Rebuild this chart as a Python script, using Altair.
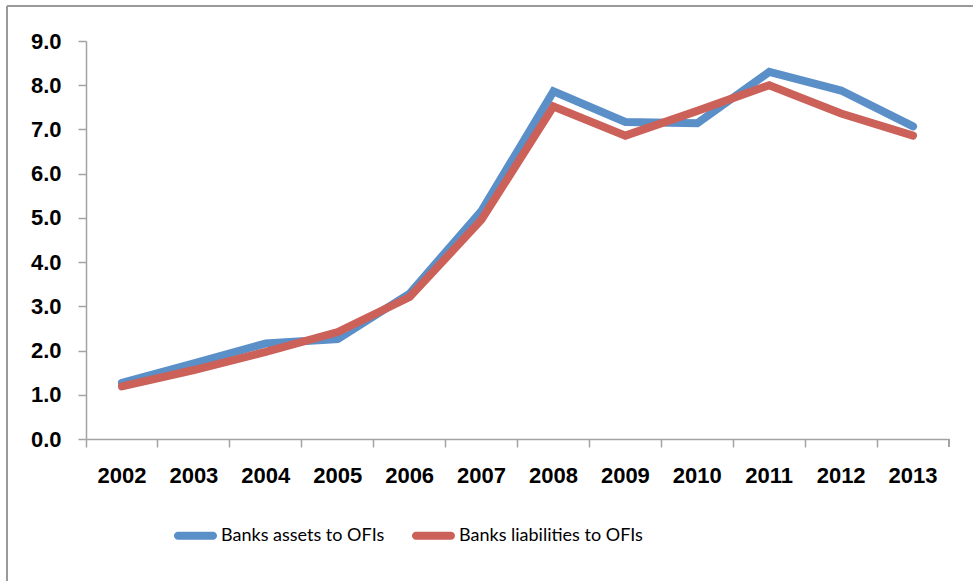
import math
import altair as alt
import pandas as pd

years = ["2002", "2003", "2004", "2005", "2006", "2007", "2008", "2009", "2010", "2011", "2012", "2013"]
assets = [1.27, 1.71, 2.16, 2.26, 3.29, 5.16, 7.86, 7.17, 7.14, 8.30, 7.88, 7.07]
liabilities = [1.19, 1.56, 1.97, 2.42, 3.21, 4.96, 7.52, 6.86, 7.42, 8.00, 7.36, 6.86]
series = ["Banks assets to OFIs", "Banks liabilities to OFIs"]
colors = ["#5B8FC8", "#CC615A"]
y_ticks = [0, 1, 2, 3, 4, 5, 6, 7, 8, 9]

rows = []
for name, vals in zip(series, [assets, liabilities]):
    for yr, v in zip(years, vals):
        rows.append({"year": yr, "series": name, "value": v})
df = pd.DataFrame(rows)

W, H = 863, 398
AXIS_GRAY = "#A3A3A3"

# capsule legend symbol (stroked outline -> filled rounded bar)
half_len_px = 21.5
r_px = 2.0
s = half_len_px
a = (half_len_px - 4.0) / s
r = r_px / s
pts = [(-a, -r), (a, -r)]
for k in range(1, 8):
    ang = -math.pi / 2 + math.pi * k / 8
    pts.append((a + r * math.cos(ang), r * math.sin(ang)))
pts.append((a, r))
pts.append((-a, r))
for k in range(1, 8):
    ang = math.pi / 2 + math.pi * k / 8
    pts.append((-a + r * math.cos(ang), r * math.sin(ang)))
capsule = "M" + " L".join(f"{x:.4f},{y:.4f}" for x, y in pts) + " Z"

lines = alt.Chart(df).mark_line(strokeWidth=8, strokeCap="round").encode(
    x=alt.X(
        "year:N",
        sort=years,
        scale=alt.Scale(type="band", paddingInner=0, paddingOuter=0),
        axis=alt.Axis(
            title=None,
            bandPosition=0,
            labelAngle=0,
            labelFont="Liberation Sans",
            labelFontWeight="bold",
            labelFontSize=22,
            labelColor="#000000",
            labelPadding=18,
            tickSize=8,
            tickColor=AXIS_GRAY,
            tickWidth=1.5,
            domainColor=AXIS_GRAY,
            domainWidth=1.5,
            grid=False,
        ),
    ),
    y=alt.Y(
        "value:Q",
        scale=alt.Scale(domain=[0, 9], nice=False),
        axis=alt.Axis(
            title=None,
            values=y_ticks,
            format=".1f",
            labelFont="Liberation Sans",
            labelFontWeight="bold",
            labelFontSize=22,
            labelColor="#000000",
            labelPadding=17,
            tickSize=8,
            tickColor=AXIS_GRAY,
            tickWidth=1.5,
            domainColor=AXIS_GRAY,
            domainWidth=1.5,
            grid=False,
        ),
    ),
    color=alt.Color(
        "series:N",
        scale=alt.Scale(domain=series, range=colors),
        legend=alt.Legend(
            title=None,
            orient="none",
            direction="horizontal",
            legendX=86,
            legendY=471,
            symbolType=capsule,
            symbolSize=(2 * half_len_px) ** 2,
            symbolStrokeWidth=4,
            labelFont="Lato",
            labelFontSize=18,
            labelColor="#000000",
            labelOffset=2,
            labelLimit=0,
            columnPadding=20,
            padding=0,
        ),
    ),
)

end_tick = alt.Chart(df).mark_rule(color=AXIS_GRAY, strokeWidth=1.5).encode(
    x=alt.value(W), y=alt.value(H), y2=alt.value(H + 8)
)
frame_top = alt.Chart(df).mark_rule(color="#9A9A9A", strokeWidth=1.5).encode(
    x=alt.value(-79), x2=alt.value(W + 30), y=alt.value(-35)
)
frame_left = alt.Chart(df).mark_rule(color="#9A9A9A", strokeWidth=1.5).encode(
    x=alt.value(-79), y=alt.value(-35), y2=alt.value(H + 150)
)

chart = alt.layer(lines, end_tick, frame_top, frame_left).properties(
    width=W,
    height=H,
    autosize="none",
    padding={"left": 86, "top": 41, "right": 24, "bottom": 142},
    background="#FFFFFF",
).configure_view(stroke=None)

chart.save("out.html", embed_options={"renderer": "svg", "actions": False})
